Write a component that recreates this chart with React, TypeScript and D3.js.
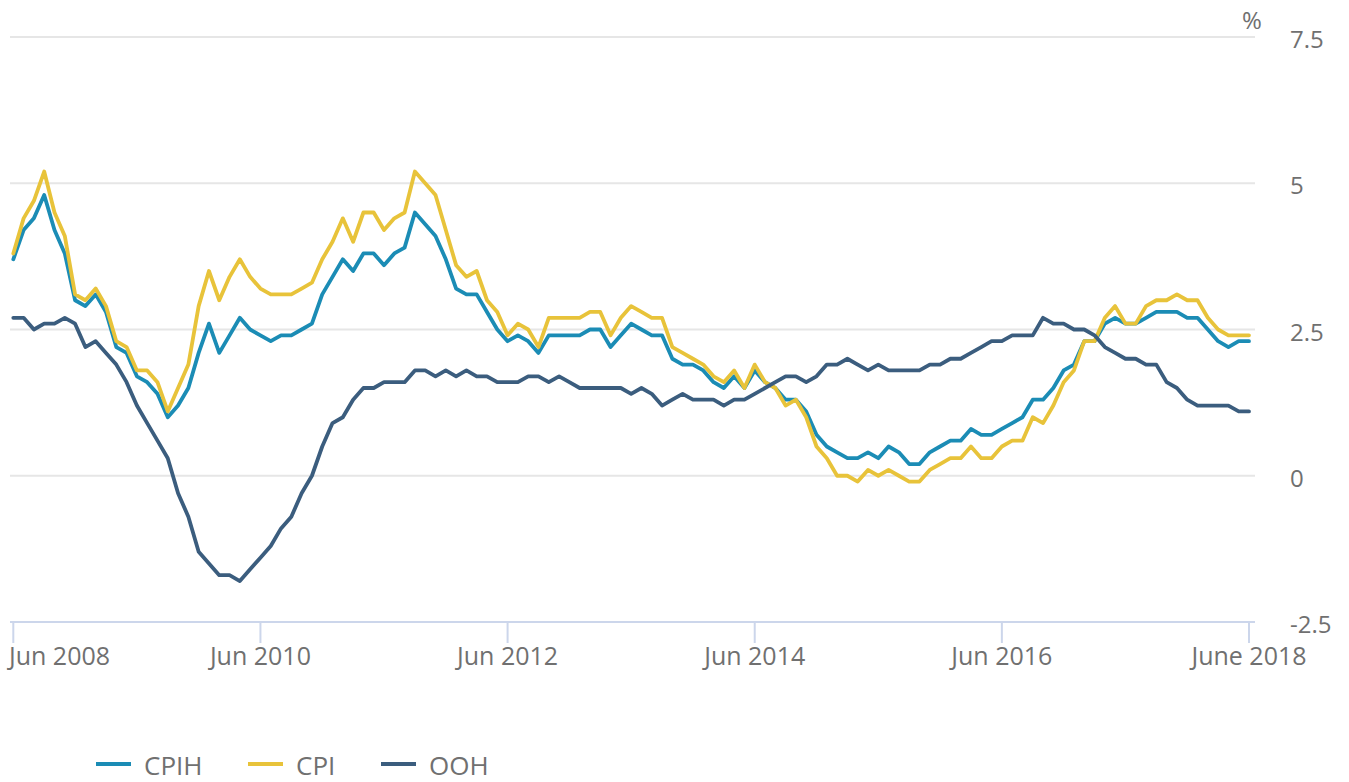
import React from "react";
import * as d3 from "d3";

const startLabel = "Jun 2008";
const xTickIdx = [0, 24, 48, 72, 96, 120];
const xTickLabels = ["Jun 2008", "Jun 2010", "Jun 2012", "Jun 2014", "Jun 2016", "June 2018"];
const yTicks = [-2.5, 0, 2.5, 5, 7.5];
const yTickLabels = ["-2.5", "0", "2.5", "5", "7.5"];
const seriesNames = ["CPIH", "CPI", "OOH"];
const seriesColors = ["#1b8cb5", "#e8c33a", "#3b5d7e"];

// Monthly values Jun 2008 .. Jun 2018 (121 months)
const cpih = [
  3.7, 4.2, 4.4, 4.8, 4.2, 3.8, 3.0,
  2.9, 3.1, 2.8, 2.2, 2.1, 1.7, 1.6, 1.4, 1.0, 1.2, 1.5, 2.1,
  2.6, 2.1, 2.4, 2.7, 2.5, 2.4, 2.3, 2.4, 2.4, 2.5, 2.6, 3.1,
  3.4, 3.7, 3.5, 3.8, 3.8, 3.6, 3.8, 3.9, 4.5, 4.3, 4.1, 3.7,
  3.2, 3.1, 3.1, 2.8, 2.5, 2.3, 2.4, 2.3, 2.1, 2.4, 2.4, 2.4,
  2.4, 2.5, 2.5, 2.2, 2.4, 2.6, 2.5, 2.4, 2.4, 2.0, 1.9, 1.9,
  1.8, 1.6, 1.5, 1.7, 1.5, 1.8, 1.6, 1.5, 1.3, 1.3, 1.1, 0.7,
  0.5, 0.4, 0.3, 0.3, 0.4, 0.3, 0.5, 0.4, 0.2, 0.2, 0.4, 0.5,
  0.6, 0.6, 0.8, 0.7, 0.7, 0.8, 0.9, 1.0, 1.3, 1.3, 1.5, 1.8,
  1.9, 2.3, 2.3, 2.6, 2.7, 2.6, 2.6, 2.7, 2.8, 2.8, 2.8, 2.7,
  2.7, 2.5, 2.3, 2.2, 2.3, 2.3,
];
const cpi = [
  3.8, 4.4, 4.7, 5.2, 4.5, 4.1, 3.1,
  3.0, 3.2, 2.9, 2.3, 2.2, 1.8, 1.8, 1.6, 1.1, 1.5, 1.9, 2.9,
  3.5, 3.0, 3.4, 3.7, 3.4, 3.2, 3.1, 3.1, 3.1, 3.2, 3.3, 3.7,
  4.0, 4.4, 4.0, 4.5, 4.5, 4.2, 4.4, 4.5, 5.2, 5.0, 4.8, 4.2,
  3.6, 3.4, 3.5, 3.0, 2.8, 2.4, 2.6, 2.5, 2.2, 2.7, 2.7, 2.7,
  2.7, 2.8, 2.8, 2.4, 2.7, 2.9, 2.8, 2.7, 2.7, 2.2, 2.1, 2.0,
  1.9, 1.7, 1.6, 1.8, 1.5, 1.9, 1.6, 1.5, 1.2, 1.3, 1.0, 0.5,
  0.3, 0.0, 0.0, -0.1, 0.1, 0.0, 0.1, 0.0, -0.1, -0.1, 0.1, 0.2,
  0.3, 0.3, 0.5, 0.3, 0.3, 0.5, 0.6, 0.6, 1.0, 0.9, 1.2, 1.6,
  1.8, 2.3, 2.3, 2.7, 2.9, 2.6, 2.6, 2.9, 3.0, 3.0, 3.1, 3.0,
  3.0, 2.7, 2.5, 2.4, 2.4, 2.4,
];
const ooh = [
  2.7, 2.7, 2.5, 2.6, 2.6, 2.7, 2.6,
  2.2, 2.3, 2.1, 1.9, 1.6, 1.2, 0.9, 0.6, 0.3, -0.3, -0.7, -1.3,
  -1.5, -1.7, -1.7, -1.8, -1.6, -1.4, -1.2, -0.9, -0.7, -0.3, 0.0, 0.5,
  0.9, 1.0, 1.3, 1.5, 1.5, 1.6, 1.6, 1.6, 1.8, 1.8, 1.7, 1.8,
  1.7, 1.8, 1.7, 1.7, 1.6, 1.6, 1.6, 1.7, 1.7, 1.6, 1.7, 1.6,
  1.5, 1.5, 1.5, 1.5, 1.5, 1.4, 1.5, 1.4, 1.2, 1.3, 1.4, 1.3,
  1.3, 1.3, 1.2, 1.3, 1.3, 1.4, 1.5, 1.6, 1.7, 1.7, 1.6, 1.7,
  1.9, 1.9, 2.0, 1.9, 1.8, 1.9, 1.8, 1.8, 1.8, 1.8, 1.9, 1.9,
  2.0, 2.0, 2.1, 2.2, 2.3, 2.3, 2.4, 2.4, 2.4, 2.7, 2.6, 2.6,
  2.5, 2.5, 2.4, 2.2, 2.1, 2.0, 2.0, 1.9, 1.9, 1.6, 1.5, 1.3,
  1.2, 1.2, 1.2, 1.2, 1.1, 1.1,
];

const W = 1349;
const H = 782;
const FONT = "'Open Sans', 'Noto Sans', sans-serif";
const LABEL = "#707070";

export default function App() {
  const x = d3.scaleLinear().domain([0, 120]).range([13.3, 1249]);
  const y = d3.scaleLinear().domain([-2.5, 7.5]).range([622, 37]);
  const line = d3
    .line<number>()
    .x((_, i) => x(i))
    .y((d) => y(d));
  const data = [cpih, cpi, ooh];
  const legendX = [96, 248, 381];

  return (
    <svg
      width={W}
      height={H}
      style={{ position: "absolute", left: 0, top: 0, background: "#fff" }}
      fontFamily={FONT}
    >
      {yTicks.map((t) =>
        t === -2.5 ? null : (
          <line key={t} x1={10} x2={1255} y1={y(t)} y2={y(t)} stroke="#e6e6e6" strokeWidth={2} />
        )
      )}
      <line x1={10} x2={1255} y1={y(-2.5)} y2={y(-2.5)} stroke="#ccd6eb" strokeWidth={2} />
      {xTickIdx.map((t) => (
        <line key={t} x1={x(t)} x2={x(t)} y1={y(-2.5)} y2={y(-2.5) + 21} stroke="#ccd6eb" strokeWidth={2} />
      ))}
      {xTickIdx.map((t, i) => (
        <text
          key={t}
          x={xTickLabels[i] === startLabel ? 9 : x(t)}
          y={665}
          textAnchor={xTickLabels[i] === startLabel ? "start" : "middle"}
          fontSize={25}
          fill={LABEL}
        >
          {xTickLabels[i]}
        </text>
      ))}
      {yTicks.map((t, i) => (
        <text key={t} x={1290} y={y(t) + 11} fontSize={24} fill={LABEL}>
          {yTickLabels[i]}
        </text>
      ))}
      <text x={1242} y={29} fontSize={24} fill={LABEL}>
        %
      </text>
      {data.map((d, i) => (
        <path
          key={seriesNames[i]}
          d={line(d) || ""}
          fill="none"
          stroke={seriesColors[i]}
          strokeWidth={3.8}
          strokeLinejoin="round"
          strokeLinecap="round"
        />
      ))}
      {seriesNames.map((n, i) => (
        <g key={n}>
          <line x1={legendX[i]} x2={legendX[i] + 35} y1={764} y2={764} stroke={seriesColors[i]} strokeWidth={4} />
          <text x={legendX[i] + 48} y={775} fontSize={26} fill={LABEL}>
            {n}
          </text>
        </g>
      ))}
    </svg>
  );
}
